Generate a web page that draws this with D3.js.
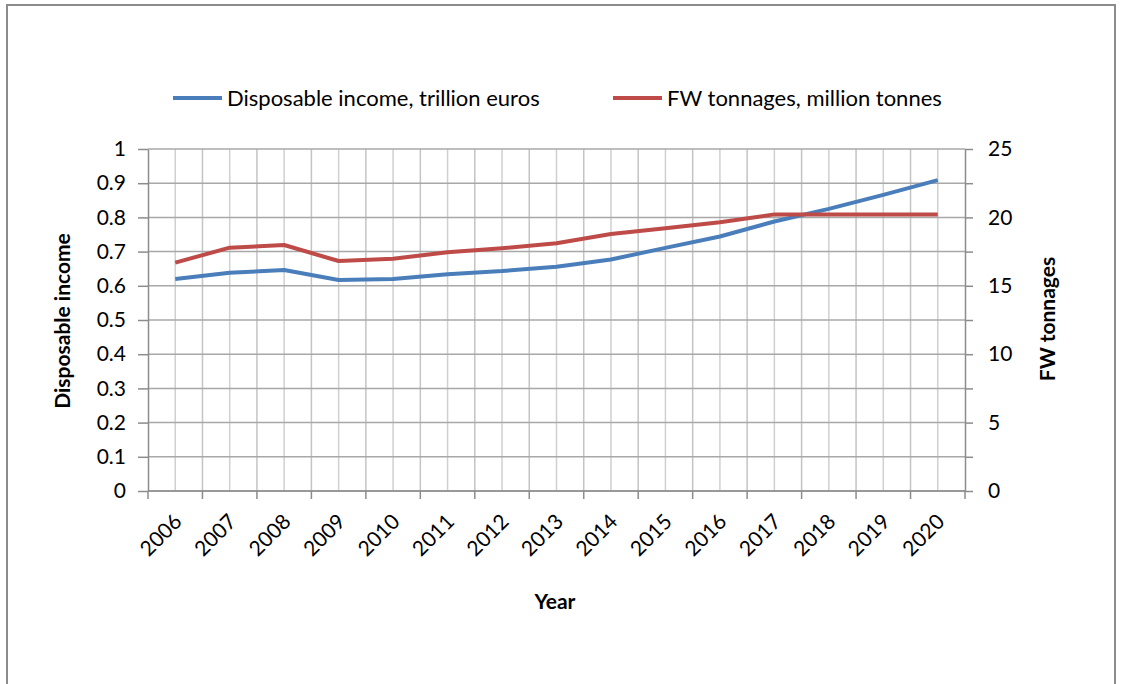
<!DOCTYPE html>
<html>
<head>
<meta charset="utf-8">
<script src="https://cdn.jsdelivr.net/npm/d3@7"></script>
<style>
  body { margin: 0; background: #fff; }
  text { font-family: Lato, "Open Sans", sans-serif; fill: #000; }
</style>
</head>
<body>
<svg id="chart" width="1123" height="684"></svg>
<script>
// data
var years = ["2006","2007","2008","2009","2010","2011","2012","2013","2014","2015","2016","2017","2018","2019","2020"];
var income = [0.620, 0.638, 0.646, 0.617, 0.620, 0.634, 0.643, 0.656, 0.677, 0.711, 0.744, 0.788, 0.825, 0.866, 0.909];
var tonnes = [16.69, 17.79, 17.98, 16.81, 16.98, 17.45, 17.74, 18.11, 18.79, 19.20, 19.64, 20.22, 20.22, 20.22, 20.22];
var leftTicks = [0, 0.1, 0.2, 0.3, 0.4, 0.5, 0.6, 0.7, 0.8, 0.9, 1];
var rightTicks = [0, 2.5, 5, 7.5, 10, 12.5, 15, 17.5, 20, 22.5, 25];

var svg = d3.select("#chart");

// outer frame
svg.append("rect")
    .attr("x", 7).attr("y", 5)
    .attr("width", 1108).attr("height", 700)
    .attr("fill", "none")
    .attr("stroke", "#8c8c8c")
    .attr("stroke-width", 2);

var pLeft = 148, pRight = 965, pTop = 149, pBottom = 491;
var axisColor = "#8c8c8c";

var x = d3.scaleBand().domain(years).range([pLeft, pRight]);
var yL = d3.scaleLinear().domain([0, 1]).range([pBottom, pTop]);
var yR = d3.scaleLinear().domain([0, 25]).range([pBottom, pTop]);

// vertical grid at category centres and boundaries
var g = svg.append("g");
g.selectAll("line.vc")
  .data(years)
  .enter().append("line")
    .attr("class", "vc")
    .attr("x1", function(d) { return x(d) + x.bandwidth() / 2; })
    .attr("x2", function(d) { return x(d) + x.bandwidth() / 2; })
    .attr("y1", pTop).attr("y2", pBottom)
    .attr("stroke", "#d0d0d0").attr("stroke-width", 1.5);
g.selectAll("line.vb")
  .data(years.slice(1))
  .enter().append("line")
    .attr("class", "vb")
    .attr("x1", function(d) { return x(d); })
    .attr("x2", function(d) { return x(d); })
    .attr("y1", pTop).attr("y2", pBottom)
    .attr("stroke", "#c4c4c4").attr("stroke-width", 1.5);

// horizontal grid
g.selectAll("line.h")
  .data(leftTicks)
  .enter().append("line")
    .attr("class", "h")
    .attr("x1", pLeft).attr("x2", pRight)
    .attr("y1", function(d) { return yL(d); })
    .attr("y2", function(d) { return yL(d); })
    .attr("stroke", "#a8a8a8").attr("stroke-width", 1.5);

// left axis
var ax = svg.append("g")
    .attr("transform", "translate(" + pLeft + ",0)")
    .call(d3.axisLeft(yL).tickValues(leftTicks).tickSize(10).tickSizeOuter(0).tickPadding(12)
      .tickFormat(function(d) { return d === 0 || d === 1 ? d : d3.format(".1f")(d); }));

// right axis
var ar = svg.append("g")
    .attr("transform", "translate(" + pRight + ",0)")
    .call(d3.axisRight(yR).tickValues(rightTicks).tickSize(8).tickSizeOuter(0).tickPadding(15)
      .tickFormat(function(d) { return d % 5 === 0 ? d : ""; }));

[ax, ar].forEach(function(a) {
  a.selectAll("text").attr("font-size", 21).style("font-family", "Lato, sans-serif").attr("fill", "#000");
  a.selectAll(".domain, .tick line").attr("stroke", axisColor).attr("stroke-width", 1.5);
});

// bottom axis, ticks at boundaries
var ab = svg.append("g")
    .attr("transform", "translate(0," + pBottom + ")");
ab.append("path")
    .attr("d", "M" + pLeft + ",0H" + pRight)
    .attr("stroke", axisColor).attr("stroke-width", 1.5);
ab.selectAll("line")
  .data(years.concat(["end"]))
  .enter().append("line")
    .attr("x1", function(d, i) { return pLeft + i * x.step(); })
    .attr("x2", function(d, i) { return pLeft + i * x.step(); })
    .attr("y1", 0).attr("y2", 8)
    .attr("stroke", axisColor).attr("stroke-width", 1.5);
ab.selectAll("text")
  .data(years)
  .enter().append("text")
    .attr("transform", function(d) {
      return "translate(" + (x(d) + x.bandwidth() / 2 + 8) + ",32) rotate(-45)";
    })
    .attr("text-anchor", "end")
    .attr("font-size", 21)
    .text(function(d) { return d; });

// lines
var lineL = d3.line()
    .x(function(d, i) { return x(years[i]) + x.bandwidth() / 2; })
    .y(function(d) { return yL(d); });
var lineR = d3.line()
    .x(function(d, i) { return x(years[i]) + x.bandwidth() / 2; })
    .y(function(d) { return yR(d); });

svg.append("path")
    .datum(income)
    .attr("fill", "none")
    .attr("stroke", "#4a7ebb")
    .attr("stroke-width", 4)
    .attr("stroke-linejoin", "round")
    .attr("d", lineL);

svg.append("path")
    .datum(tonnes)
    .attr("fill", "none")
    .attr("stroke", "#be4b48")
    .attr("stroke-width", 4)
    .attr("stroke-linejoin", "round")
    .attr("d", lineR);

// axis titles
svg.append("text")
    .attr("transform", "translate(70,321) rotate(-90)")
    .attr("text-anchor", "middle")
    .attr("font-size", 21).attr("font-weight", "bold")
    .text("Disposable income");
svg.append("text")
    .attr("transform", "translate(1055,319) rotate(-90)")
    .attr("text-anchor", "middle")
    .attr("font-size", 21).attr("font-weight", "bold")
    .text("FW tonnages");
svg.append("text")
    .attr("x", 555).attr("y", 609)
    .attr("text-anchor", "middle")
    .attr("font-size", 21).attr("font-weight", "bold")
    .text("Year");

// legend
var legend = [
  { name: "Disposable income, trillion euros", color: "#4a7ebb", x: 173 },
  { name: "FW tonnages, million tonnes", color: "#be4b48", x: 613 }
];
var lg = svg.selectAll("g.legend")
  .data(legend)
  .enter().append("g")
    .attr("class", "legend")
    .attr("transform", function(d) { return "translate(" + d.x + ",98)"; });
lg.append("line")
    .attr("x1", 0).attr("x2", 49)
    .attr("stroke", function(d) { return d.color; })
    .attr("stroke-width", 4);
lg.append("text")
    .attr("x", 54).attr("y", 8)
    .attr("font-size", 22)
    .text(function(d) { return d.name; });
</script>
</body>
</html>
